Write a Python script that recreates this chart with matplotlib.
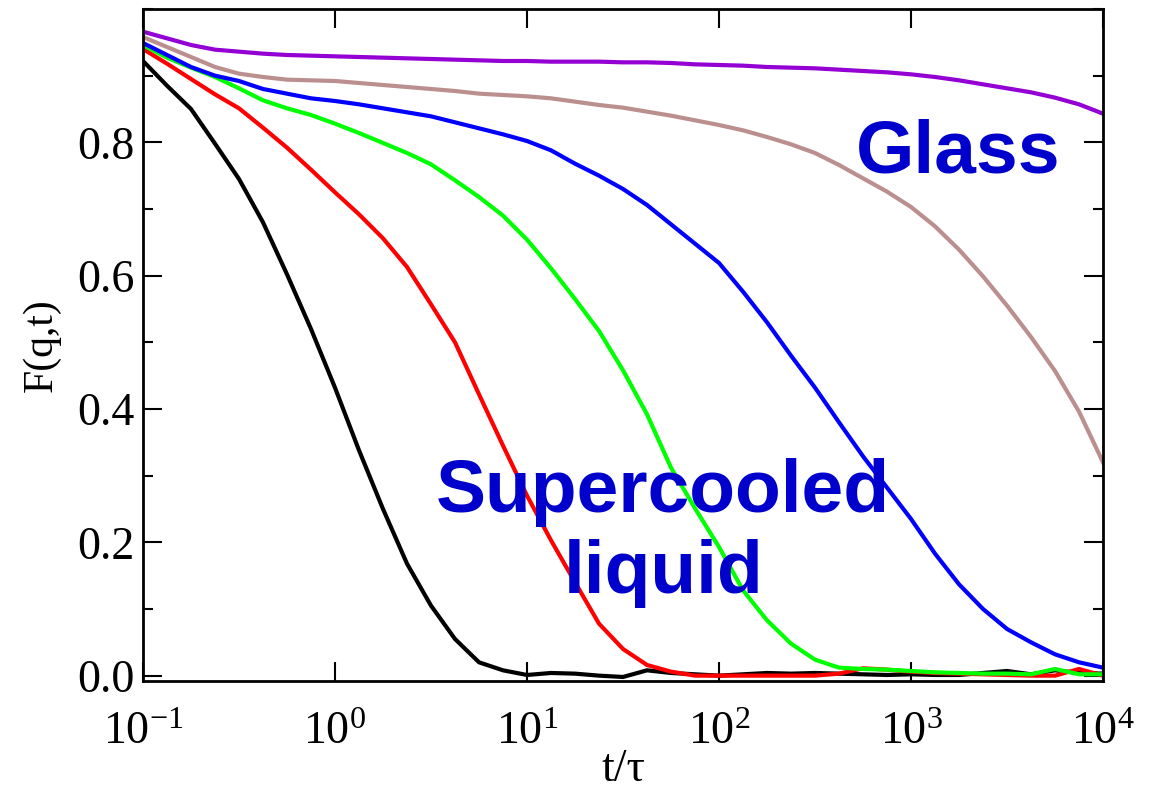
import numpy as np
import matplotlib
matplotlib.use("Agg")
import matplotlib.pyplot as plt
from matplotlib.ticker import LogLocator, NullLocator, LogFormatterMathtext, MultipleLocator

plt.rcParams["font.family"] = ["Liberation Serif", "DejaVu Serif"]
plt.rcParams["mathtext.fontset"] = "custom"
plt.rcParams["mathtext.rm"] = "Liberation Serif"
plt.rcParams["mathtext.it"] = "Liberation Serif:italic"

# time grid, in units of tau (eighth decades from 1e-1 to 1e4)
t = 10 ** np.arange(-1.0, 4.001, 0.125)

# F(q,t) for each temperature, hottest first
f_black = [0.922, 0.885, 0.850, 0.798, 0.745, 0.680, 0.602, 0.520, 0.432, 0.338,
           0.250, 0.168, 0.105, 0.055, 0.020, 0.008, 0.001, 0.004, 0.003, 0.000,
           -0.002, 0.008, 0.004, 0.002, 0.000, 0.002, 0.004, 0.003, 0.004, 0.003,
           0.002, 0.001, 0.002, 0.001, 0.001, 0.004, 0.007, 0.002, 0.008, 0.004, 0.003]
f_red = [0.940, 0.918, 0.895, 0.872, 0.851, 0.822, 0.792, 0.759, 0.725, 0.692,
         0.656, 0.613, 0.557, 0.500, 0.422, 0.345, 0.270, 0.203, 0.140, 0.078,
         0.040, 0.016, 0.006, 0.000, 0.000, 0.000, 0.000, 0.000, 0.000, 0.003,
         0.011, 0.009, 0.006, 0.004, 0.003, 0.002, 0.001, 0.000, 0.000, 0.010, 0.000]
f_green = [0.946, 0.927, 0.912, 0.898, 0.881, 0.863, 0.851, 0.841, 0.828, 0.814,
           0.799, 0.784, 0.767, 0.743, 0.718, 0.690, 0.654, 0.611, 0.565, 0.517,
           0.458, 0.392, 0.312, 0.251, 0.193, 0.128, 0.083, 0.048, 0.024, 0.012,
           0.010, 0.009, 0.007, 0.005, 0.004, 0.003, 0.003, 0.002, 0.010, 0.002, 0.002]
f_blue = [0.949, 0.931, 0.913, 0.900, 0.892, 0.880, 0.873, 0.866, 0.862, 0.857,
          0.851, 0.845, 0.839, 0.830, 0.821, 0.812, 0.802, 0.788, 0.768, 0.750,
          0.730, 0.706, 0.677, 0.648, 0.619, 0.576, 0.530, 0.480, 0.432, 0.380,
          0.329, 0.282, 0.235, 0.183, 0.137, 0.100, 0.070, 0.050, 0.032, 0.020, 0.012]
f_brown = [0.958, 0.943, 0.928, 0.913, 0.903, 0.898, 0.894, 0.893, 0.892, 0.889,
           0.886, 0.883, 0.880, 0.877, 0.873, 0.871, 0.869, 0.866, 0.861, 0.856,
           0.852, 0.846, 0.840, 0.833, 0.826, 0.818, 0.808, 0.797, 0.784, 0.766,
           0.746, 0.726, 0.703, 0.674, 0.639, 0.599, 0.555, 0.508, 0.457, 0.396, 0.320]
f_purple = [0.966, 0.956, 0.946, 0.939, 0.936, 0.933, 0.931, 0.930, 0.929, 0.928,
            0.927, 0.926, 0.925, 0.924, 0.923, 0.922, 0.922, 0.921, 0.921, 0.921,
            0.920, 0.920, 0.919, 0.917, 0.916, 0.915, 0.913, 0.912, 0.911, 0.909,
            0.907, 0.905, 0.902, 0.898, 0.893, 0.887, 0.881, 0.875, 0.867, 0.857, 0.843]

curves = [
    (f_black, "black"),
    (f_red, "#ff0000"),
    (f_green, "#00ff00"),
    (f_blue, "#0000ff"),
    (f_brown, "#bc8f8f"),
    (f_purple, "#9400d3"),
]

fig = plt.figure(figsize=(11.55, 7.96), dpi=100)
ax = fig.add_axes([0.1238, 0.1445, 0.8312, 0.8442])

for f, c in curves:
    ax.plot(t, f, color=c, lw=3)

ax.set_xscale("log")
ax.set_xlim(0.1, 1e4)
ax.set_ylim(-0.008, 1.0)

ax.xaxis.set_major_locator(LogLocator(base=10, numticks=10))
ax.xaxis.set_major_formatter(LogFormatterMathtext())
ax.xaxis.set_minor_locator(NullLocator())
ax.set_yticks([0.0, 0.2, 0.4, 0.6, 0.8])
ax.set_yticklabels(["0.0", "0.2", "0.4", "0.6", "0.8"])
ax.yaxis.set_minor_locator(MultipleLocator(0.1))

ax.tick_params(which="both", direction="in", top=True, right=True, width=1.5)
ax.tick_params(which="major", length=14, labelsize=33)
ax.tick_params(which="minor", length=7)
ax.tick_params(axis="y", pad=6)
ax.tick_params(axis="x", pad=22)
for s in ax.spines.values():
    s.set_linewidth(2)

ax.set_xlabel("t/\u03c4", fontsize=33, labelpad=-4)
ax.set_ylabel("F(q,t)", fontsize=30, labelpad=12)

lab = dict(color="#0000cc", fontsize=54, fontweight="bold", family="Liberation Sans",
           ha="center", va="baseline", transform=ax.transAxes)
ax.text(0.849, 0.756, "Glass", **lab)
ax.text(0.541, 0.2515, "Supercooled", **lab)
ax.text(0.542, 0.131, "liquid", **lab)

fig.savefig("out.png", dpi=100)
